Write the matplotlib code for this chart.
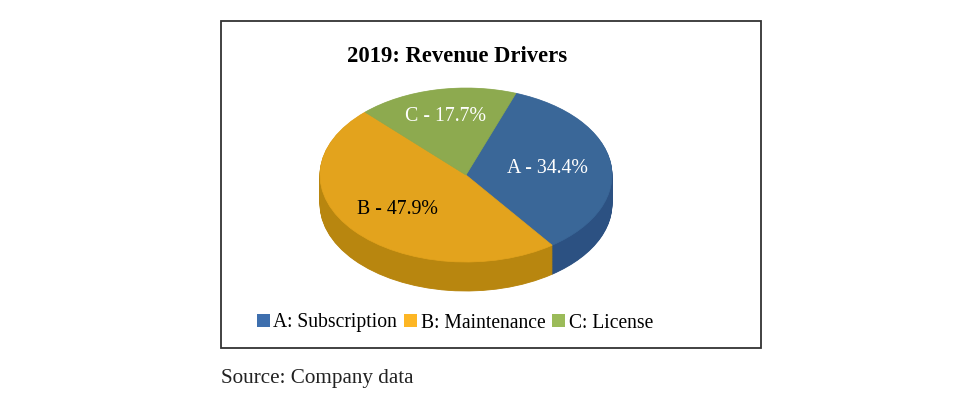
import matplotlib
matplotlib.use("Agg")
import matplotlib.pyplot as plt
from matplotlib.patches import Rectangle, Patch
import numpy as np

# ---- data ----
title = "2019: Revenue Drivers"
codes = ["A", "B", "C"]
names = ["Subscription", "Maintenance", "License"]
shares = [34.4, 47.9, 17.7]
source = "Source: Company data"

top_colors = ["#3A6798", "#E3A31D", "#8DAA4F"]
side_colors = ["#2C5182", "#B8860F", "#6F8A3A"]
legend_colors = ["#3E6FAE", "#FDB624", "#9BBB59"]
label_colors = ["white", "black", "white"]
label_dist = [0.56, 0.61, 0.69]

W, H = 960, 399
fig = plt.figure(figsize=(W / 100, H / 100), dpi=100)
plt.rcParams['font.family'] = ['Liberation Serif', 'DejaVu Serif']

# frame box
fig.patches.append(Rectangle((221 / W, 1 - 348 / H), (761 - 221) / W, (348 - 21) / H,
                             transform=fig.transFigure, fill=False,
                             edgecolor="#333333", linewidth=1.3))

# pie axes geometry (pixels)
cx, cy = 466, 175
rx, ry = 146, 87
depth = 29
xl = (-1.1, 1.1)
yl = (-1.55, 1.1)
ax_left = cx + xl[0] * rx
ax_w = (xl[1] - xl[0]) * rx
ax_bottom = (H - cy) + yl[0] * ry
ax_h = (yl[1] - yl[0]) * ry
ax = fig.add_axes([ax_left / W, ax_bottom / H, ax_w / W, ax_h / H])

start = 70
# side (stacked layers)
N = 40
d = depth / ry
for k in range(N, 0, -1):
    off = -d * k / N
    ax.pie(shares, colors=side_colors, startangle=start, counterclock=False,
           center=(0, off), radius=1.0,
           wedgeprops=dict(linewidth=0.6, edgecolor=None))
    for w in ax.patches[-3:]:
        w.set_edgecolor(w.get_facecolor())

wedges, _ = ax.pie(shares, colors=top_colors, startangle=start, counterclock=False,
                   center=(0, 0), radius=1.0,
                   wedgeprops=dict(linewidth=0.5))
for w in wedges:
    w.set_edgecolor(w.get_facecolor())

for w, c, s, col, dist in zip(wedges, codes, shares, label_colors, label_dist):
    ang = np.deg2rad((w.theta1 + w.theta2) / 2)
    ax.text(dist * np.cos(ang), dist * np.sin(ang), f"{c} - {s:.1f}%",
            ha="center", va="center", color=col, fontsize=14.3)

ax.set_aspect("auto")
ax.set_xlim(*xl)
ax.set_ylim(*yl)
ax.axis("off")

fig.text(457 / W, 1 - 57 / H, title, ha="center", va="center",
         fontsize=16.3, fontweight="bold", color="black")

handles = [Patch(facecolor=lc, edgecolor="none") for lc in legend_colors]
labels = [f"{c}: {n}" for c, n in zip(codes, names)]
fig.legend(handles, labels, loc="center", bbox_to_anchor=(455 / W, 1 - 323 / H),
           ncol=3, frameon=False, fontsize=14.1, handlelength=0.65, handleheight=0.65,
           handletextpad=0.2, columnspacing=0.35, borderpad=0)

fig.text(221 / W, 1 - 379 / H, source, ha="left", va="center", fontsize=15.2,
         color="#222222")

fig.savefig("out.png", dpi=100)
